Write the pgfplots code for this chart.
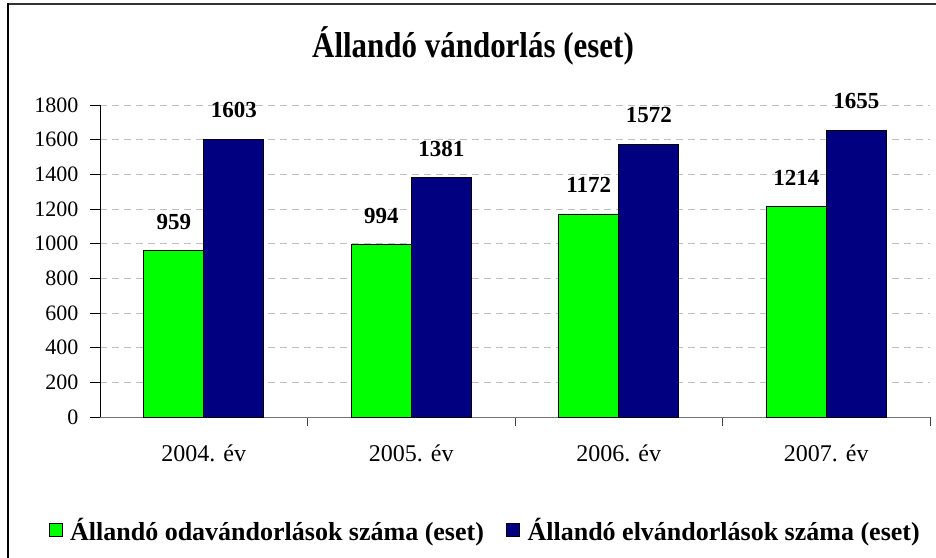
\documentclass[border=0pt]{standalone}
\usepackage{fontspec}
\setmainfont{Liberation Serif}
\usepackage{pgfplots}
\pgfplotsset{compat=1.18}
\definecolor{barA}{HTML}{00FF00}
\definecolor{barB}{HTML}{000080}
\begin{document}
\begin{tikzpicture}
\path[use as bounding box] (-100pt,-140pt) rectangle (836pt,417pt);
\draw[line width=2.5pt, black!80] (-92pt,413pt) -- (850pt,413pt);
\draw[line width=2pt, black] (-92pt,414pt) -- (-92pt,-150pt);
\node[anchor=base, inner sep=0pt, font=\fontsize{36}{40}\selectfont\bfseries] at (373pt,359pt) {\scalebox{0.86}[1]{Állandó vándorlás (eset)}};
\begin{axis}[
  at={(0pt,0pt)}, anchor=south west,
  scale only axis, width=830pt, height=312pt,
  xmin=-0.5, xmax=3.5, ymin=0, ymax=1800,
  clip=false,
  ybar=0pt, bar width=60pt,
  axis x line*=bottom, axis y line*=left,
  axis line style={-},
  x axis line style={draw=black!55, line width=0.8pt},
  y axis line style={draw=black, line width=0.8pt},
  xtick={0,1,2,3},
  xticklabels={2004. év,2005. év,2006. év,2007. év},
  major x tick style={draw=none},
  minor xtick={0.5,1.5,2.5,3.5},
  minor x tick style={draw=black!75, line width=0.8pt},
  minor tick length=9pt,
  ytick={0,200,...,1800},
  major tick length=10pt,
  y tick style={draw=black, line width=0.8pt},
  tick align=outside,
  ymajorgrids,
  major grid style={draw=black!25, dash pattern=on 7pt off 5pt, line width=0.8pt},
  /pgf/number format/assume math mode=true,
  /pgf/number format/1000 sep={},
  yticklabel style={font=\fontsize{22}{26}\selectfont, xshift=-8pt},
  xticklabel style={font=\fontsize{24}{28}\selectfont, yshift=-14pt},
  nodes near coords,
  nodes near coords style={font=\fontsize{23}{27}\selectfont\bfseries, anchor=south, inner sep=0pt, yshift=21pt, black},
  legend columns=2,
  legend style={at={(0.464,-0.362)}, anchor=center, draw=none, fill=none,
    font=\fontsize{26}{30}\selectfont\bfseries,
    /tikz/every odd column/.append style={column sep=6pt},
    /tikz/every even column/.append style={column sep=20pt}},
  legend image code/.code={\draw[#1, draw=black, line width=0.6pt] (0pt,-6pt) rectangle (13pt,7pt);},
]
\addplot[fill=barA, draw=black, line width=0.6pt] coordinates {(0,959) (1,994) (2,1172) (3,1214)};
\addplot[fill=barB, draw=black, line width=0.6pt] coordinates {(0,1603) (1,1381) (2,1572) (3,1655)};
\legend{Állandó odavándorlások száma (eset), Állandó elvándorlások száma (eset)}
\end{axis}
\end{tikzpicture}
\end{document}
